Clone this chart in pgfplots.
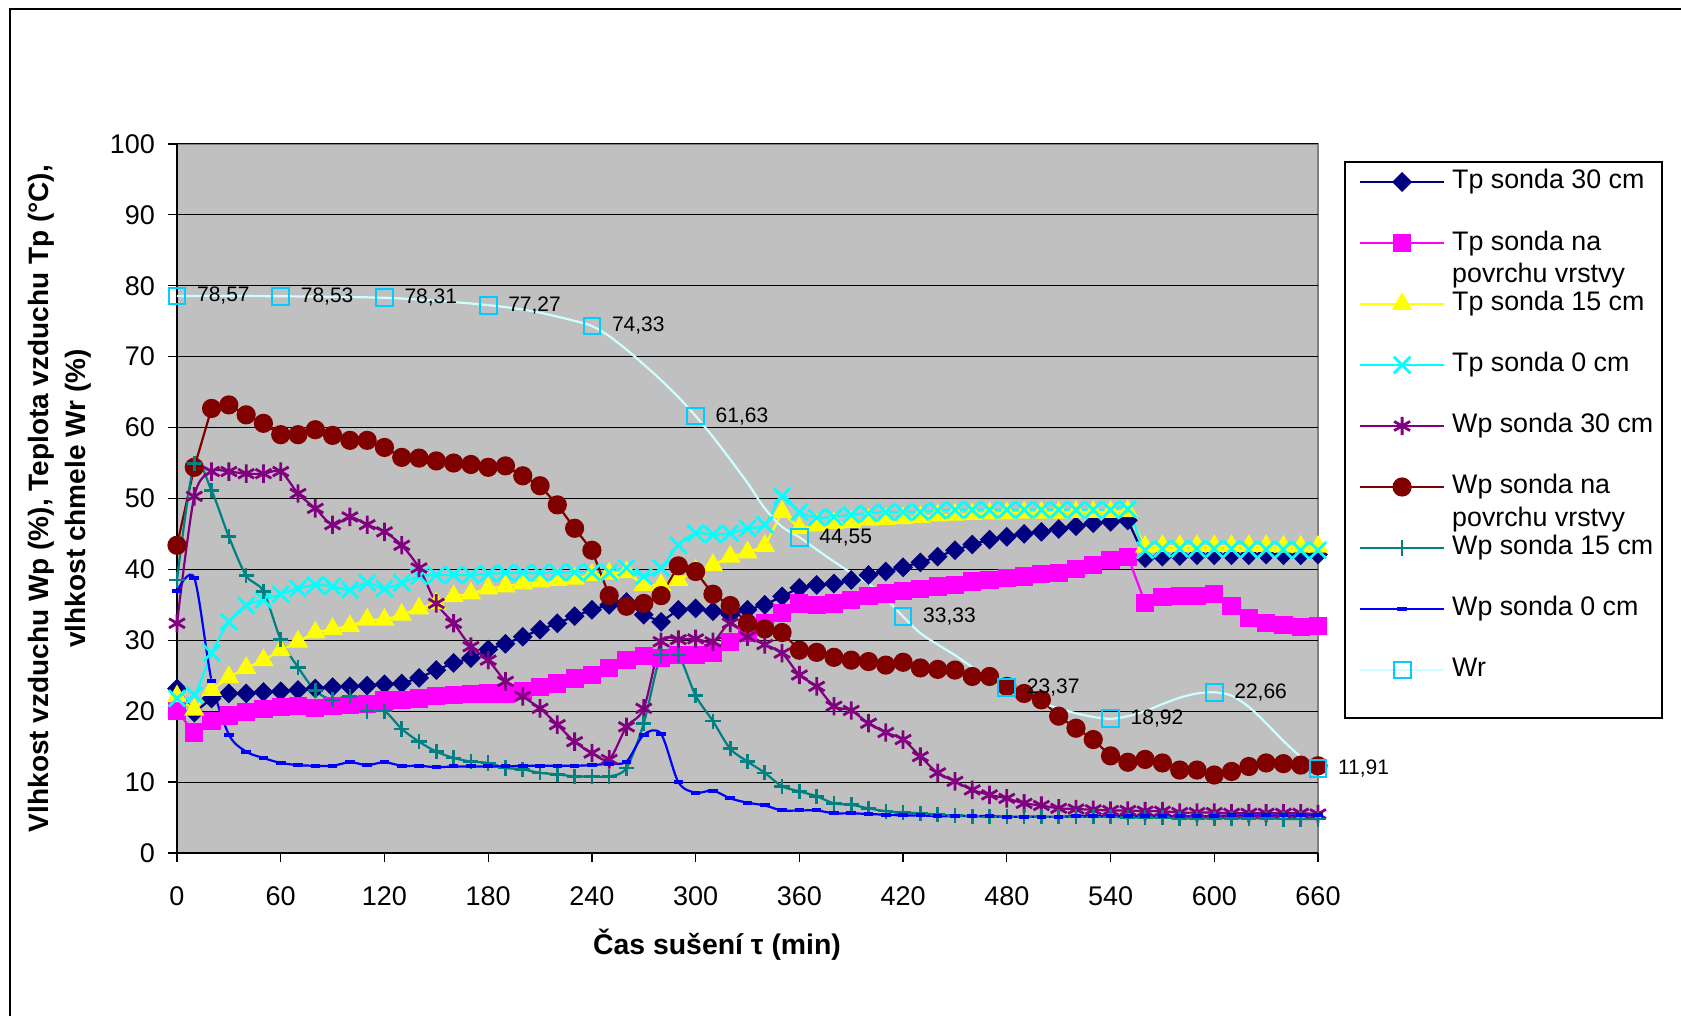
\documentclass[border=0pt]{standalone}
\usepackage{fontspec}
\setmainfont{Liberation Sans}
\usepackage{pgfplots}
\usepackage{pgfplotstable}
\pgfplotsset{compat=1.18}

\definecolor{cTpA}{RGB}{0,0,128}
\definecolor{cTpB}{RGB}{255,0,255}
\definecolor{cTpC}{RGB}{255,255,0}
\definecolor{cTpD}{RGB}{0,255,255}
\definecolor{cWpA}{RGB}{128,0,128}
\definecolor{cWpB}{RGB}{128,0,0}
\definecolor{cWpC}{RGB}{0,128,128}
\definecolor{cWpD}{RGB}{0,0,255}
\definecolor{cWrL}{RGB}{204,255,255}
\definecolor{cWrM}{RGB}{0,204,255}
\definecolor{plotbg}{RGB}{192,192,192}
\definecolor{plotframe}{RGB}{128,128,128}

% t = drying time (min); Tp = air temperature, Wp = air humidity, Wr = hop moisture
\pgfplotstableread{
t   tpA  tpB  tpC  tpD  wpA  wpB  wpC  wpD  wr
0   23.2 20.0 22.1 21.8 32.4 43.4 38.5 36.9 78.57
10  19.8 17.0 20.2 22.3 50.3 54.4 54.9 38.8 78.56
20  21.8 18.6 23.0 28.2 53.8 62.7 51.1 24.3 78.56
30  22.5 19.4 24.8 32.6 53.8 63.2 44.6 16.7 78.55
40  22.5 19.9 26.1 34.9 53.5 61.8 39.1 14.3 78.55
50  22.7 20.3 27.2 35.7 53.5 60.6 36.9 13.4 78.54
60  22.8 20.6 28.6 36.5 53.8 59.0 30.1 12.7 78.53
70  23.0 20.7 29.8 37.3 50.7 59.0 26.2 12.4 78.50
80  23.2 20.4 31.1 37.8 48.6 59.7 22.9 12.3 78.48
90  23.4 20.7 31.6 37.6 46.3 58.9 21.6 12.3 78.45
100 23.5 20.9 32.0 37.1 47.4 58.2 22.1 12.8 78.41
110 23.6 21.0 32.9 38.1 46.3 58.2 20.0 12.4 78.37
120 23.8 21.5 32.9 37.3 45.3 57.2 20.0 12.8 78.31
130 23.9 21.6 33.6 38.1 43.4 55.8 17.5 12.3 78.20
140 24.7 21.8 34.5 39.0 40.2 55.7 15.7 12.3 78.05
150 25.8 22.1 35.2 39.2 35.2 55.3 14.3 12.1 77.90
160 26.8 22.3 36.2 39.2 32.4 55.0 13.4 12.2 77.70
170 27.5 22.4 36.6 39.2 29.1 54.8 12.9 12.2 77.50
180 28.7 22.5 37.3 39.4 27.2 54.4 12.7 12.2 77.27
190 29.5 22.5 37.6 39.5 24.2 54.6 12.0 12.2 77.00
200 30.5 22.8 38.0 39.5 22.1 53.2 11.8 12.3 76.65
210 31.5 23.4 38.3 39.5 20.4 51.8 11.3 12.3 76.20
220 32.4 23.9 38.5 39.6 18.1 49.1 11.1 12.3 75.65
230 33.4 24.6 38.7 39.6 15.7 45.8 10.8 12.3 75.05
240 34.3 25.1 39.2 39.6 14.1 42.7 10.8 12.4 74.33
250 35.0 26.1 39.4 39.6 13.2 36.3 10.8 12.6 72.90
260 35.4 27.2 39.6 40.2 17.8 34.8 12.0 12.9 71.00
270 33.6 27.8 37.8 39.0 20.4 35.2 18.3 16.7 68.90
280 32.6 27.5 37.8 40.2 29.8 36.3 27.9 16.8 66.70
290 34.3 27.9 38.5 43.4 30.1 40.5 27.9 10.0 64.30
300 34.5 27.9 39.8 45.1 30.2 39.7 22.2 8.5  61.63
310 34.1 28.2 40.6 44.9 29.8 36.5 18.6 8.8  58.70
320 33.6 29.8 41.8 45.1 32.4 34.9 14.7 7.7  55.50
330 34.3 31.0 42.4 45.8 30.5 32.4 12.9 7.1  52.20
340 35.0 32.4 43.3 46.3 29.4 31.6 11.3 6.7  48.60
350 36.2 33.8 48.1 50.3 28.2 31.1 9.4  6.0  46.00
360 37.4 35.2 45.8 48.1 25.1 28.6 8.7  6.0  44.55
370 37.8 35.0 46.2 47.3 23.5 28.3 8.0  6.0  42.80
380 38.0 35.2 46.5 47.4 20.7 27.6 7.0  5.6  41.10
390 38.5 35.7 46.7 47.7 20.1 27.2 6.8  5.6  39.50
400 39.2 36.2 47.0 47.9 18.3 27.0 6.3  5.5  38.00
410 39.7 36.6 47.1 48.1 17.0 26.5 5.9  5.4  35.90
420 40.3 37.0 47.2 48.1 16.0 26.9 5.7  5.3  33.33
430 41.0 37.2 47.4 48.1 13.6 26.1 5.6  5.3  31.00
440 41.8 37.6 47.6 48.3 11.3 25.9 5.4  5.2  29.40
450 42.7 37.8 47.7 48.4 10.1 25.8 5.3  5.2  27.90
460 43.5 38.3 47.8 48.4 8.9  24.9 5.2  5.2  26.20
470 44.2 38.5 47.9 48.4 8.2  24.9 5.1  5.2  24.70
480 44.6 38.8 47.9 48.4 7.7  23.5 5.1  5.1  23.37
490 45.0 39.0 48.0 48.4 7.0  22.5 5.1  5.1  22.20
500 45.3 39.3 48.0 48.4 6.7  21.6 5.1  5.1  21.20
510 45.7 39.5 48.0 48.4 6.3  19.3 5.1  5.1  20.40
520 46.1 40.1 48.1 48.4 6.2  17.6 5.1  5.2  19.70
530 46.5 40.6 48.1 48.4 6.1  16.0 5.1  5.2  19.20
540 46.7 41.3 48.1 48.4 6.0  13.7 5.1  5.2  18.92
550 46.9 41.8 48.2 48.5 6.0  12.8 5.0  5.2  19.30
560 41.6 35.3 43.2 42.7 5.9  13.2 5.0  5.2  20.00
570 41.8 36.1 43.3 42.9 5.9  12.7 5.0  5.2  21.00
580 41.9 36.2 43.3 42.9 5.7  11.7 4.9  5.2  21.90
590 42.0 36.2 43.3 42.9 5.7  11.7 4.9  5.2  22.50
600 42.0 36.5 43.3 42.9 5.7  11.0 4.9  5.2  22.66
610 42.0 34.8 43.3 42.9 5.6  11.5 4.9  5.3  22.20
620 42.0 33.1 43.3 42.8 5.6  12.2 4.9  5.3  20.60
630 42.1 32.4 43.3 42.8 5.6  12.7 4.9  5.3  18.30
640 42.0 32.2 43.2 42.8 5.6  12.6 4.8  5.3  15.80
650 42.0 31.9 43.2 42.7 5.6  12.4 4.8  5.3  13.60
660 42.1 32.0 43.2 42.7 5.5  12.3 4.8  5.3  11.91
}\datatab

\begin{document}
\begin{tikzpicture}
\useasboundingbox (0,0) rectangle (840.5bp,508bp);
\begin{axis}[
  at={(88.5bp,81.5bp)}, anchor=south west,
  scale only axis, width=570.5bp, height=354.5bp,
  xmin=0, xmax=660, ymin=0, ymax=100,
  xtick={0,60,...,660}, ytick={0,10,...,100},
  axis x line*=bottom, axis y line*=left,
  axis line style={-, black, line width=0.8bp},
  axis background/.style={fill=plotbg, draw=plotframe, line width=1.2bp},
  ymajorgrids, grid style={black, line width=0.5bp},
  tick align=outside, major tick length=4.5bp,
  tick style={black, line width=0.6bp},
  /pgf/number format/assume math mode=true,
  ticklabel style={font=\fontsize{13.5bp}{16bp}\selectfont},
  xticklabel style={yshift=-8.9bp},
  yticklabel style={xshift=-3bp},
  xlabel={Čas sušení τ (min)},
  every axis x label/.style={at={(axis description cs:0.4733,-0.14386)}, anchor=base,
    font=\bfseries\fontsize{14.2bp}{16bp}\selectfont},
  ylabel={Vlhkost vzduchu Wp (\%), Teplota vzduchu Tp (°C),\\vlhkost chmele Wr (\%)},
  every axis y label/.style={at={(axis description cs:-0.1027,0.5)}, rotate=90,
    anchor=center, align=center, font=\bfseries\fontsize{14bp}{18.15bp}\selectfont},
  clip=false,
  legend style={at={(axis description cs:1.03594,0.96474)}, anchor=north west,
    draw=none, fill=none, inner sep=0pt, outer sep=0pt,
    row sep=17.5bp, column sep=3.5bp,
    font=\fontsize{13.4bp}{16.25bp}\selectfont,
    nodes={inner sep=0pt, text height=10bp, text depth=3bp}},
  legend cell align=left,
  legend image code/.code={\draw[mark repeat=2, mark phase=2, #1]
    plot coordinates {(0bp,0bp) (21bp,0bp) (42bp,0bp)};},
  every axis plot/.append style={line width=1.1bp},
]
\addplot[cTpA, mark=square*, mark size=2.95bp, mark options={rotate=45}]
  table[x=t, y=tpA] {\datatab};
\addlegendentry{Tp sonda 30 cm}
\addplot[cTpB, mark=square*, mark size=4bp]
  table[x=t, y=tpB] {\datatab};
\addlegendentry{\rlap{\raisebox{-16.25bp}[0pt][0pt]{povrchu vrstvy}}Tp sonda na}
\addplot[cTpC, mark=triangle*, mark size=4.8bp]
  table[x=t, y=tpC] {\datatab};
\addlegendentry{Tp sonda 15 cm}
\addplot[cTpD, smooth, mark=x, mark size=5.8bp, mark options={line width=1.4bp}]
  table[x=t, y=tpD] {\datatab};
\addlegendentry{Tp sonda 0 cm}
\addplot[cWpA, smooth, mark=asterisk, mark size=4.6bp, mark options={line width=1.4bp}]
  table[x=t, y=wpA] {\datatab};
\addlegendentry{Wp sonda 30 cm}
\addplot[cWpB, mark=*, mark size=4.25bp]
  table[x=t, y=wpB] {\datatab};
\addlegendentry{\rlap{\raisebox{-16.25bp}[0pt][0pt]{povrchu vrstvy}}Wp sonda na}
\addplot[cWpC, smooth, mark=+, mark size=3.8bp, mark options={line width=1.3bp}]
  table[x=t, y=wpC] {\datatab};
\addlegendentry{Wp sonda 15 cm}
\addplot[cWpD, smooth, mark=-, mark size=2.4bp, mark options={line width=2bp}]
  table[x=t, y=wpD] {\datatab};
\addlegendentry{Wp sonda 0 cm}
\addplot[cWrL, smooth, mark=square, mark repeat=6, mark size=4.2bp,
  mark options={cWrM, line width=1bp}]
  table[x=t, y=wr] {\datatab};
\addlegendentry{Wr}
% value labels at the marked Wr points
\addplot[draw=none, mark=none, forget plot, each nth point=6, filter discard warning=false,
  point meta=y,
  nodes near coords={\pgfmathprintnumber[fixed, fixed zerofill, precision=2, use comma]{\pgfplotspointmeta}},
  every node near coord/.append style={anchor=west, xshift=9.5bp, inner sep=0pt,
    text=black, font=\fontsize{10.5bp}{12bp}\selectfont}]
  table[x=t, y=wr] {\datatab};
\end{axis}
% legend frame and outer chart border
\draw[black, line width=0.8bp] (672.5bp,149bp) rectangle (831bp,427bp);
\draw[black, line width=1bp] (4.8bp,-2bp) -- (4.8bp,503.5bp) -- (845bp,503.5bp);
\end{tikzpicture}
\end{document}
